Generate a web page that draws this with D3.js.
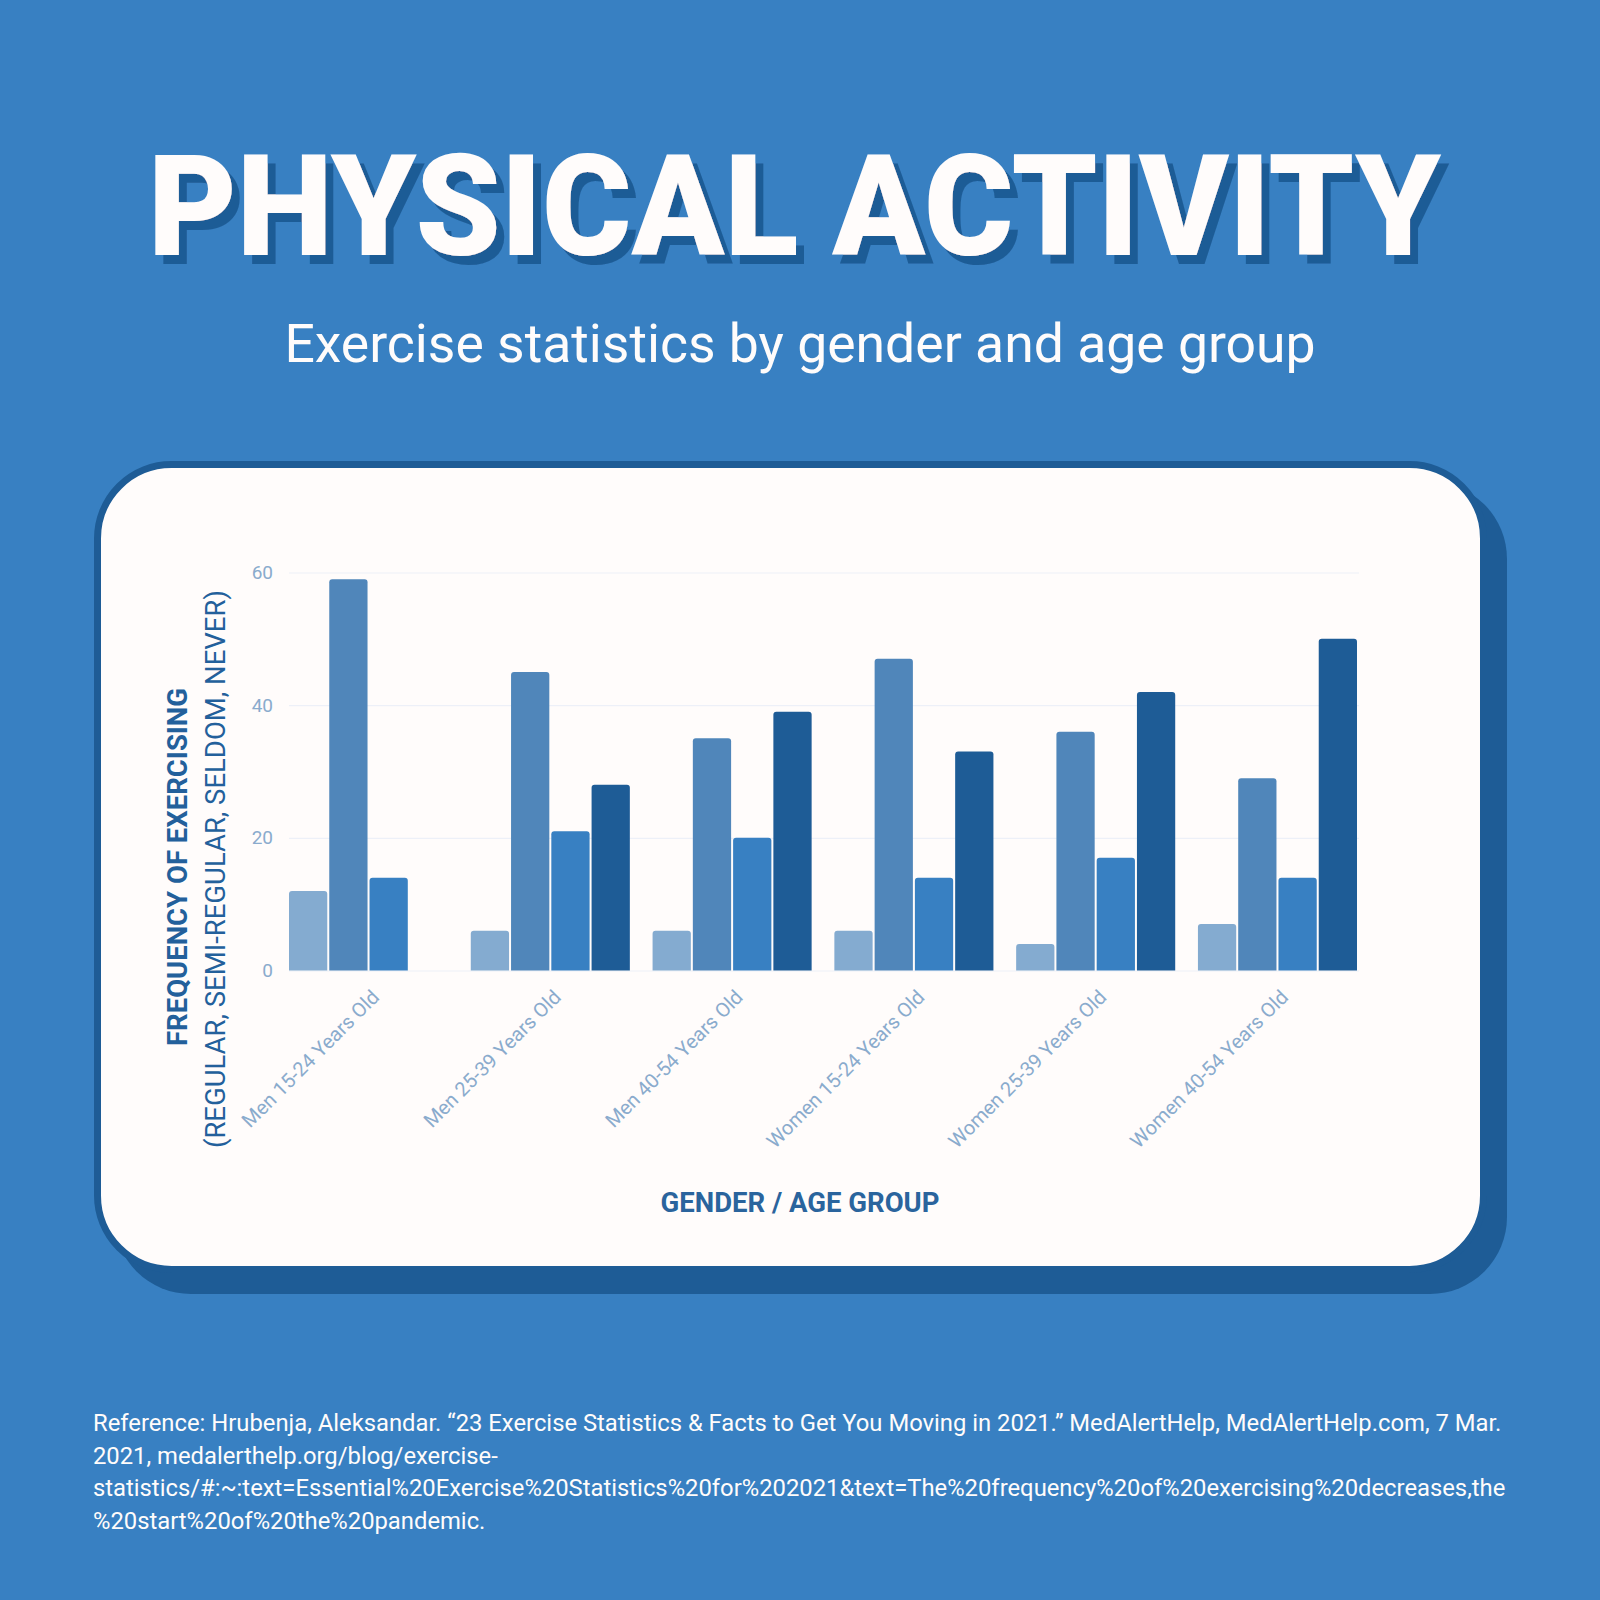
<!DOCTYPE html>
<html lang="en">
<head>
<meta charset="UTF-8">
<title>Physical Activity</title>
<script src="https://cdn.jsdelivr.net/npm/d3@7/dist/d3.min.js"></script>
<style>
body{margin:0;background:#3880c2;}
svg{display:block;}
</style>
</head>
<body>
<script>
// data
var groups = ["Men 15-24 Years Old","Men 25-39 Years Old","Men 40-54 Years Old","Women 15-24 Years Old","Women 25-39 Years Old","Women 40-54 Years Old"];
var seriesNames = ["Regular","Semi-Regular","Seldom","Never"];
var regular = [12,6,6,6,4,7];
var semiRegular = [59,45,35,47,36,29];
var seldom = [14,21,20,14,17,14];
var never = [0,28,39,33,42,50];
var yTicks = [0,20,40,60];
var refLines = [
	"Reference: Hrubenja, Aleksandar. \u201c23 Exercise Statistics & Facts to Get You Moving in 2021.\u201d MedAlertHelp, MedAlertHelp.com, 7 Mar.",
	"2021, medalerthelp.org/blog/exercise-",
	"statistics/#:~:text=Essential%20Exercise%20Statistics%20for%202021&text=The%20frequency%20of%20exercising%20decreases,the",
	"%20start%20of%20the%20pandemic."
];

var colors = ["#84abd0","#5086ba","#3880c2","#1e5c96"];
var dark = "#1e5c96";
var width = 1600, height = 1600;
var svg = d3.select("body").append("svg").attr("width",width).attr("height",height);

svg.append("rect").attr("width",width).attr("height",height).attr("fill","#3880c2");

//hard offset shadow for the title
var f = svg.append("defs").append("filter").attr("id","hardShadow")
	.attr("x","-5%").attr("y","-20%").attr("width","110%").attr("height","140%");
f.append("feFlood").attr("flood-color",dark).attr("result","col");
f.append("feComposite").attr("in","col").attr("in2","SourceAlpha").attr("operator","in").attr("result","sh");
f.append("feOffset").attr("in","sh").attr("dx",8).attr("dy",9).attr("result","off");
var fm = f.append("feMerge");
fm.append("feMergeNode").attr("in","off");
fm.append("feMergeNode").attr("in","SourceGraphic");

svg.append("text").attr("x",148).attr("y",255)
	.attr("textLength",1293).attr("lengthAdjust","spacingAndGlyphs")
	.attr("filter","url(#hardShadow)")
	.style("font-family","Roboto").style("font-weight",900).style("font-size","141px")
	.attr("fill","#fffcfb").text("PHYSICAL ACTIVITY");
svg.append("text").attr("x",800).attr("y",362).attr("text-anchor","middle")
	.style("font-family","Roboto").style("font-size","53.5px").attr("fill","#fffcfb")
	.text("Exercise statistics by gender and age group");

//card + shadow
svg.append("rect").attr("x",114).attr("y",482).attr("width",1393).attr("height",812).attr("rx",77).attr("fill",dark);
svg.append("rect").attr("x",97.5).attr("y",464.5).attr("width",1386).attr("height",805).attr("rx",74)
	.attr("fill","#fffcfb").attr("stroke",dark).attr("stroke-width",7);

//scales
var plot = {left:289,right:1359,top:572.5,bottom:970.5};
var x0 = d3.scaleBand().domain(groups).range([plot.left,plot.right]).paddingInner(0.114).paddingOuter(0);
var x1 = d3.scaleBand().domain(seriesNames).range([0,x0.bandwidth()]);
var y = d3.scaleLinear().domain([0,60]).range([plot.bottom,plot.top]);

//y axis with gridlines
var yAxis = d3.axisLeft(y).tickValues(yTicks).tickSize(-(plot.right-plot.left)).tickPadding(16);
var gy = svg.append("g").attr("transform","translate("+plot.left+",0)").call(yAxis);
gy.select(".domain").remove();
gy.selectAll("line").attr("stroke","#edf0f8").attr("stroke-width",1.2);
gy.selectAll("text").attr("fill","#8aabcd").style("font-family","Roboto").style("font-size","19px");

//bars
var table = groups.map(function(g,i){
	return {group:g, values:[regular[i],semiRegular[i],seldom[i],never[i]]};
});
function topRounded(x,yt,w,h,r){
	r = Math.min(r,h,w/2);
	return "M"+x+","+(yt+h)+"V"+(yt+r)+"Q"+x+","+yt+" "+(x+r)+","+yt+"H"+(x+w-r)+"Q"+(x+w)+","+yt+" "+(x+w)+","+(yt+r)+"V"+(yt+h)+"Z";
}
var gg = svg.selectAll(".grp").data(table).enter().append("g").attr("class","grp")
	.attr("transform",function(d){return "translate("+x0(d.group)+",0)";});
gg.selectAll("path").data(function(d){
	return d.values.map(function(v,j){return {name:seriesNames[j],value:v,c:colors[j]};}).filter(function(e){return e.value>0;});
}).enter().append("path")
	.attr("fill",function(d){return d.c;})
	.attr("d",function(d){
		var bw = x1.bandwidth()-2;
		return topRounded(x1(d.name),y(d.value),bw,plot.bottom-y(d.value),3);
	});

//x axis labels
var xAxis = d3.axisBottom(x0).tickSize(0);
var gx = svg.append("g").attr("transform","translate(0,"+plot.bottom+")").call(xAxis);
gx.select(".domain").remove();
gx.selectAll("text").attr("x",0).attr("y",0).attr("dy","0.35em")
	.attr("text-anchor","end").attr("transform","translate(6,23) rotate(-45)")
	.attr("fill","#8aabcd").style("font-family","Roboto").style("font-size","20px");

//axis titles
svg.append("text").attr("transform","translate(187,867) rotate(-90)").attr("text-anchor","middle")
	.style("font-family","Roboto").style("font-weight",700).style("font-size","27.5px").attr("fill","#23609b")
	.text("FREQUENCY OF EXERCISING");
svg.append("text").attr("transform","translate(225,869) rotate(-90)").attr("text-anchor","middle")
	.style("font-family","Roboto").style("font-size","27.5px").attr("fill","#23609b")
	.text("(REGULAR, SEMI-REGULAR, SELDOM, NEVER)");
svg.append("text").attr("x",800).attr("y",1212).attr("text-anchor","middle")
	.style("font-family","Roboto").style("font-weight",700).style("font-size","27.5px").attr("fill","#2a649d")
	.text("GENDER / AGE GROUP");

//reference
svg.append("g").selectAll("text").data(refLines).enter().append("text")
	.attr("x",93).attr("y",function(d,i){return 1431+i*32.6;})
	.style("font-family","Roboto").style("font-size","23.8px").attr("fill","#fffcfb")
	.text(function(d){return d;});
</script>
</body>
</html>
